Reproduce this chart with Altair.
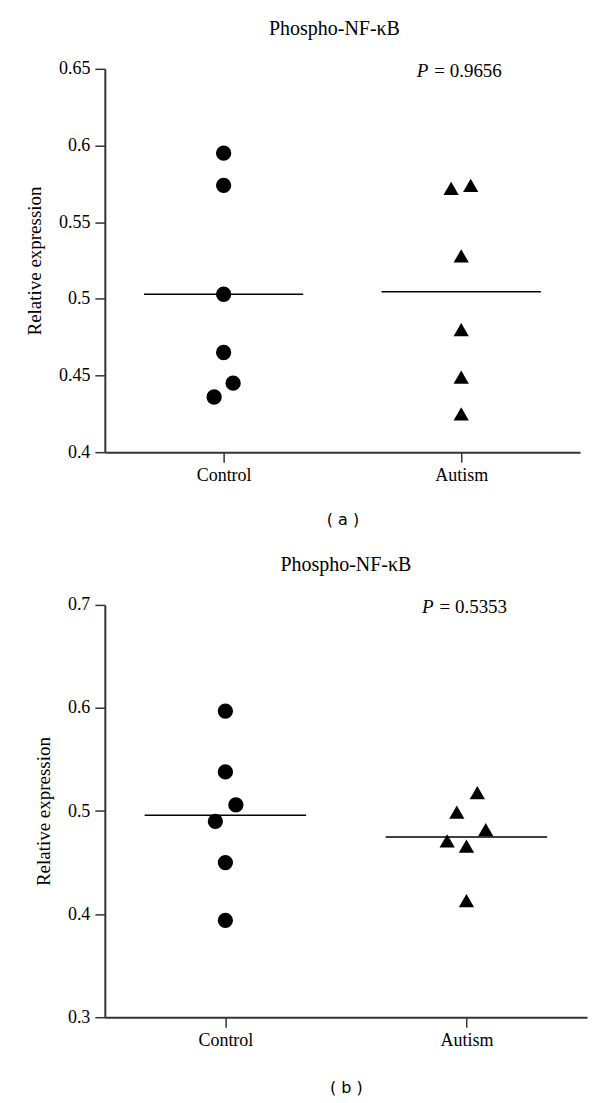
import altair as alt
import pandas as pd

# ---- data ----
groups = ["Control", "Autism"]
group_pos = [1, 3]

a_control = [0.595, 0.574, 0.503, 0.465, 0.445, 0.436]
a_control_jit = [0.0, 0.0, 0.0, 0.0, 0.08, -0.08]
a_autism = [0.572, 0.574, 0.528, 0.480, 0.449, 0.425]
a_autism_jit = [-0.085, 0.08, 0.0, 0.0, 0.0, 0.0]

b_control = [0.597, 0.538, 0.506, 0.490, 0.450, 0.394]
b_control_jit = [0.0, 0.0, 0.087, -0.083, 0.0, 0.0]
b_autism = [0.518, 0.499, 0.482, 0.471, 0.466, 0.413]
b_autism_jit = [0.09, -0.08, 0.16, -0.16, 0.0, 0.0]

a_ticks = [0.4, 0.45, 0.5, 0.55, 0.6, 0.65]
b_ticks = [0.3, 0.4, 0.5, 0.6, 0.7]
a_p = "= 0.9656"
b_p = "= 0.5353"
title_text = "Phospho-NF-κB"
y_title = "Relative expression"

SERIF = "Liberation Serif"


def make_df(ctrl, ctrl_j, aut, aut_j):
    rows = []
    for v, j in zip(ctrl, ctrl_j):
        rows.append({"group": groups[0], "pos": group_pos[0], "jit": j, "value": v})
    for v, j in zip(aut, aut_j):
        rows.append({"group": groups[1], "pos": group_pos[1], "jit": j, "value": v})
    return pd.DataFrame(rows)


def panel(df, ticks, ptxt, caption, w, h, title_dx, cap_pad):
    ydom = [min(ticks), max(ticks)]
    xs = alt.Scale(domain=[0, 4], nice=False, zero=False)
    ys = alt.Scale(domain=ydom, nice=False, zero=False)
    xaxis = alt.Axis(values=group_pos,
                     labelExpr="datum.value == 1 ? 'Control' : 'Autism'",
                     title=caption, titleFont="DejaVu Sans", titleFontSize=16,
                     titleFontWeight="normal", titlePadding=cap_pad, grid=False,
                     labelPadding=4)
    yaxis = alt.Axis(values=ticks, format="~g", title=y_title, grid=False,
                     titlePadding=14, labelPadding=5)

    base = alt.Chart(df)
    pts = base.transform_calculate(xp="datum.pos + datum.jit").mark_point(
        filled=True, opacity=1, color="black", size=235
    ).encode(
        x=alt.X("xp:Q", scale=xs, axis=xaxis),
        y=alt.Y("value:Q", scale=ys, axis=yaxis),
        shape=alt.Shape("group:N",
                        scale=alt.Scale(domain=groups, range=["circle", "triangle-up"]),
                        legend=None),
    )
    means = base.transform_aggregate(
        m="mean(value)", groupby=["pos"]
    ).transform_calculate(
        x1="datum.pos - 0.67", x2="datum.pos + 0.67"
    ).mark_rule(color="black", strokeWidth=1.5).encode(
        x=alt.X("x1:Q", scale=xs), x2="x2:Q", y=alt.Y("m:Q", scale=ys)
    )
    pdf = pd.DataFrame({"x": [group_pos[1]], "y": [ydom[1]], "t": [ptxt]})
    ptext_eq = alt.Chart(pdf).mark_text(
        align="left", baseline="middle", font=SERIF, fontSize=19, dx=-27, dy=2,
        color="black"
    ).encode(x=alt.X("x:Q", scale=xs), y=alt.Y("y:Q", scale=ys), text="t:N")
    ptext_p = alt.Chart(pdf).mark_text(
        align="right", baseline="middle", font=SERIF, fontSize=19, fontStyle="italic",
        dx=-33, dy=2, color="black"
    ).encode(x=alt.X("x:Q", scale=xs), y=alt.Y("y:Q", scale=ys), text=alt.value("P"))

    return alt.layer(pts, means, ptext_eq, ptext_p).properties(
        width=w, height=h,
        title=alt.TitleParams(title_text, font=SERIF, fontSize=20, fontWeight="normal",
                              frame="group", anchor="middle", offset=21, dx=title_dx,
                              color="black"),
    )


pa = panel(make_df(a_control, a_control_jit, a_autism, a_autism_jit),
           a_ticks, a_p, "( a )", 476, 384, -8, 27)
pb = panel(make_df(b_control, b_control_jit, b_autism, b_autism_jit),
           b_ticks, b_p, "( b )", 483, 413, 0, 30)

chart = alt.concat(pa, pb, columns=1, spacing=28, align="none").properties(
    padding={"left": 17, "top": 10, "right": 5, "bottom": 5}
).configure_view(stroke=None).configure_axis(
    domainColor="#333333", domainWidth=2, tickColor="#333333", tickWidth=1.5,
    tickSize=10, labelFont=SERIF, labelFontSize=18, labelColor="black",
    titleFont=SERIF, titleFontSize=19, titleFontWeight="normal", titleColor="black",
)

chart.save("out.html", embed_options={"renderer": "svg", "actions": False})
